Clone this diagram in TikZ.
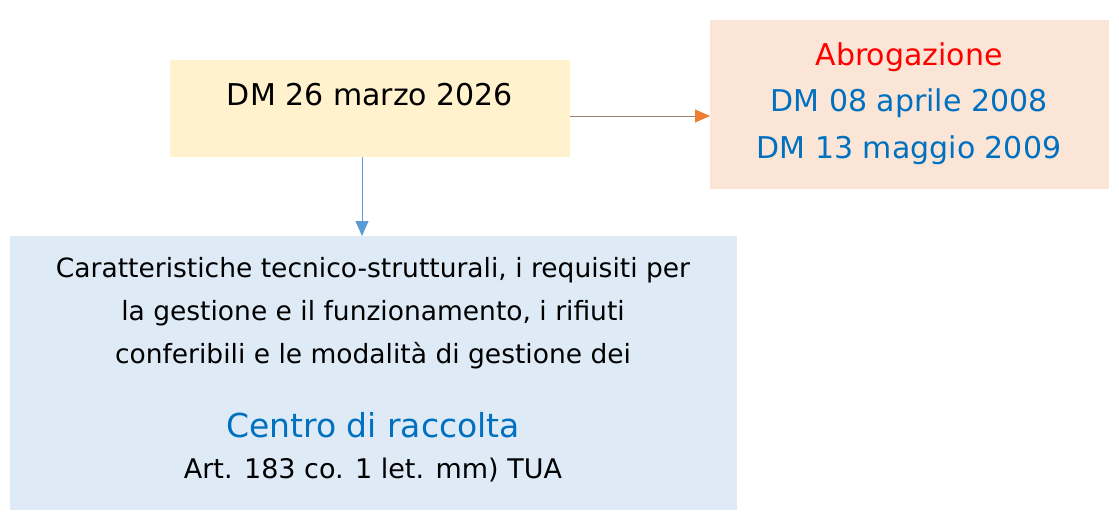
\documentclass[tikz,border=0pt]{standalone}
\usepackage{fontspec}
\setmainfont{DejaVu Sans}
\usetikzlibrary{arrows.meta, positioning}
\definecolor{boxyellow}{HTML}{FFF2CC}
\definecolor{boxorange}{HTML}{FBE5D6}
\definecolor{boxblue}{HTML}{DEEBF7}
\definecolor{txtblue}{HTML}{0070C0}
\definecolor{arrorange}{HTML}{ED7D31}
\definecolor{arrblue}{HTML}{5B9BD5}
\tikzset{box/.style={inner sep=0pt, anchor=north west}}
\tikzset{big/.style={font=\fontsize{30}{36}\selectfont}}
\tikzset{small/.style={font=\fontsize{26.5}{43}\selectfont, align=center}}
\tikzset{link/.style={line width=0.8pt}}
\begin{document}
\begin{tikzpicture}[x=1pt,y=-1pt]
\useasboundingbox (0,0) rectangle (1119,516);
\node[box, fill=boxyellow, minimum width=400pt, minimum height=97pt] (dmbox) at (170,60) {};
\node[box, fill=boxorange, minimum width=399pt, minimum height=169pt] (abbox) at (710,20) {};
\node[box, fill=boxblue, minimum width=727pt, minimum height=274pt] (crbox) at (10,236) {};

\node[big] (dm) at (370,95) {DM 26 marzo 2026};
\node[big, text=red] (abrog) at (909,57) {Abrogazione};
\node[big, text=txtblue] (dm08) at (909,103) {DM 08 aprile 2008};
\node[big, text=txtblue] (dm13) at (909,150) {DM 13 maggio 2009};

\node[small] (desc) at (373,313) {Caratteristiche tecnico-strutturali, i requisiti per\\la gestione e il funzionamento, i rifiuti\\conferibili e le modalità di gestione dei};
\node[font=\fontsize{33}{40}\selectfont, text=txtblue] (centro) at (373,425) {Centro di raccolta};
\node[font=\fontsize{27}{32}\selectfont] (art) at (373,470) {Art. 183 co. 1 let. mm) TUA};

\coordinate (hstart) at (570,116);
\coordinate (vstart) at (362,157);
\draw[link, draw=gray!70!arrorange, -{Triangle[length=15pt,width=13pt,color=arrorange]}] (hstart) -- (hstart -| abbox.west);
\draw[link, draw=arrblue, -{Triangle[length=15pt,width=13pt]}] (vstart) -- (vstart |- crbox.north);
\end{tikzpicture}
\end{document}
